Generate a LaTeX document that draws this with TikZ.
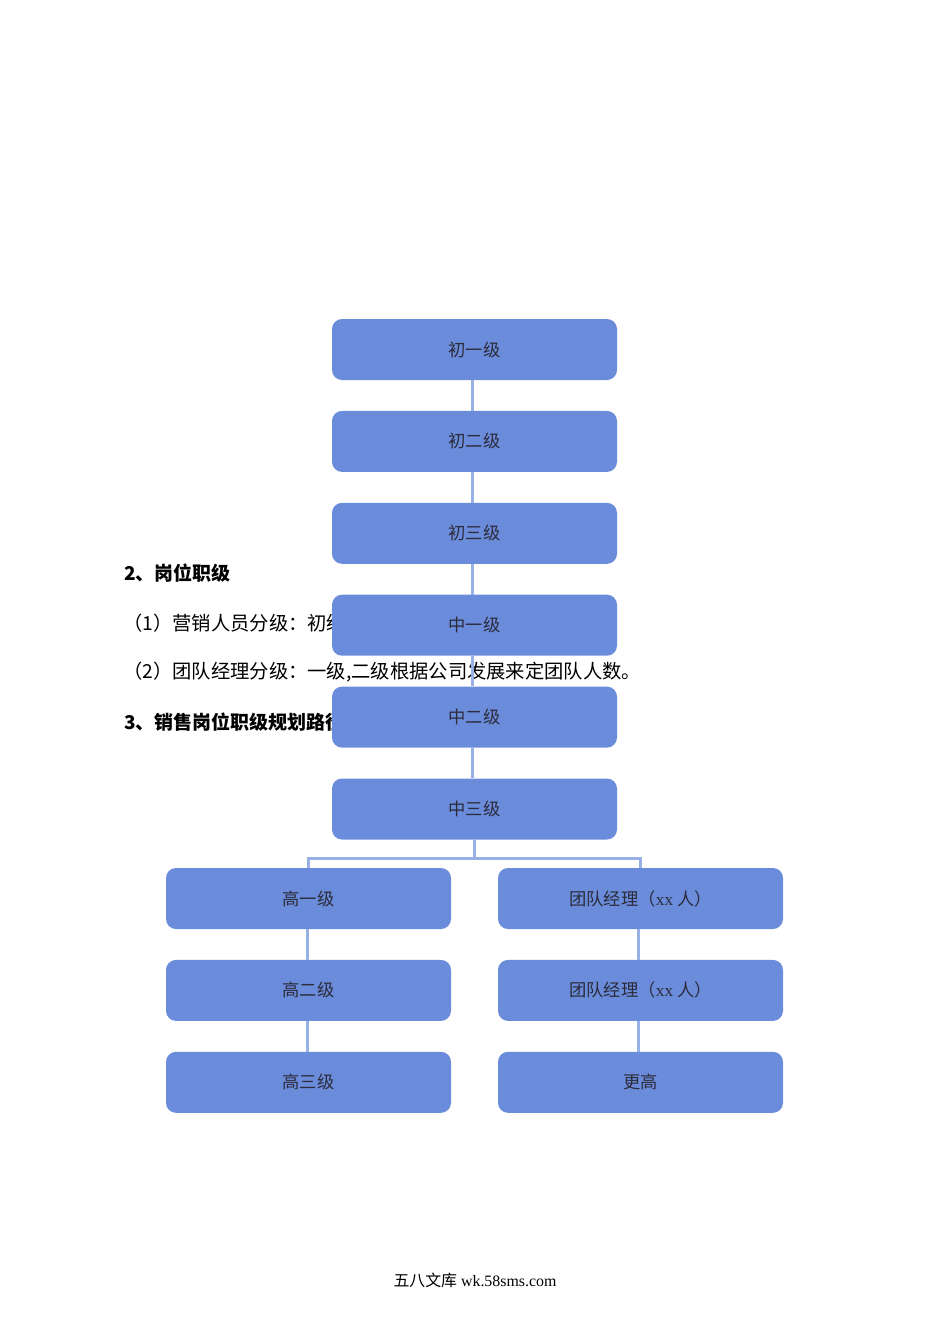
\documentclass[tikz,border=0pt]{standalone}
\usepackage{fontspec}
\setmainfont{Liberation Serif}
\newfontfamily\cjk{Noto Sans CJK SC}
\usetikzlibrary{positioning}

\definecolor{boxblue}{HTML}{6B8CDA}
\definecolor{lineblue}{HTML}{97B0E6}
\definecolor{boxtext}{HTML}{2B2B3B}

\begin{document}
\begin{tikzpicture}[x=1pt,y=-1pt,
    level/.style={rectangle, rounded corners=10pt, fill=boxblue,
        minimum width=285pt, minimum height=61pt, inner sep=0pt,
        text=boxtext, font=\cjk\fontsize{17.3}{17.3}\selectfont},
    link/.style={draw=lineblue, line width=3pt},
    body/.style={anchor=west, inner sep=0pt, font=\cjk\fontsize{19.3}{19.3}\selectfont},
    head/.style={body, font=\cjk\bfseries\fontsize{19}{19}\selectfont},
    node distance=30.5pt]

    \useasboundingbox (0,0) rectangle (950,1344);

    % page text behind the chart
    \node[head] (sec2) at (124,573) {2、岗位职级};
    \node[body] (item1) at (123,623) {（1）营销人员分级：初级};
    \node[body] (item2) at (123,672) {（2）团队经理分级：一级,二级根据公司发展来定团队人数。};
    \node[head] (sec3) at (124,722) {3、销售岗位职级规划路径};

    % main column
    \node[level] (c1) at (474.5,349.5) {初一级};
    \node[level, below=of c1] (c2) {初二级};
    \node[level, below=of c2] (c3) {初三级};
    \node[level, below=of c3] (c4) {中一级};
    \node[level, below=of c4] (c5) {中二级};
    \node[level, below=of c5] (c6) {中三级};

    % two branches
    \node[level] (h1) at (308.5,898.5) {高一级};
    \node[level, below=of h1] (h2) {高二级};
    \node[level, below=of h2] (h3) {高三级};
    \node[level] (m1) at (640.5,898.5) {团队经理（{\rmfamily xx} 人）};
    \node[level, below=of m1] (m2) {团队经理（{\rmfamily xx} 人）};
    \node[level, below=of m2] (m3) {更高};

    \draw[link] ([xshift=-2.5pt]c1.south) -- ([xshift=-2.5pt]c2.north);
    \draw[link] ([xshift=-2.5pt]c2.south) -- ([xshift=-2.5pt]c3.north);
    \draw[link] ([xshift=-2.5pt]c3.south) -- ([xshift=-2.5pt]c4.north);
    \draw[link] ([xshift=-2.5pt]c4.south) -- ([xshift=-2.5pt]c5.north);
    \draw[link] ([xshift=-2.5pt]c5.south) -- ([xshift=-2.5pt]c6.north);

    \coordinate[below=18.5pt of c6] (fork);
    \draw[link] (c6.south) -- (fork) -| (h1.north);
    \draw[link] (fork) -| (m1.north);

    \draw[link] ([xshift=-1.5pt]h1.south) -- ([xshift=-1.5pt]h2.north);
    \draw[link] ([xshift=-1.5pt]h2.south) -- ([xshift=-1.5pt]h3.north);
    \draw[link] ([xshift=-2pt]m1.south) -- ([xshift=-2pt]m2.north);
    \draw[link] ([xshift=-2pt]m2.south) -- ([xshift=-2pt]m3.north);

    % footer
    \node[font=\fontsize{15.9}{15.9}\selectfont] (foot) at (475,1280) {{\cjk 五八文库} wk.58sms.com};
\end{tikzpicture}
\end{document}
